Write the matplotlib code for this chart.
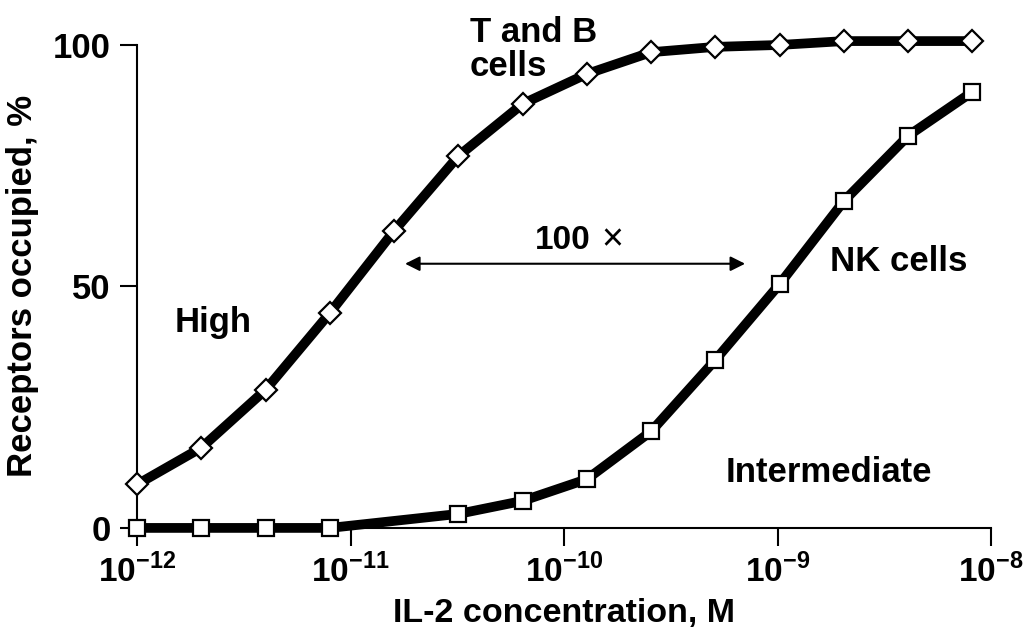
import matplotlib
matplotlib.use('Agg')
import matplotlib.pyplot as plt
import numpy as np

plt.rcParams['font.family'] = ['Liberation Sans', 'DejaVu Sans']
plt.rcParams['font.weight'] = 'bold'
plt.rcParams['mathtext.fontset'] = 'custom'
plt.rcParams['mathtext.rm'] = 'Liberation Sans:bold'
plt.rcParams['mathtext.bf'] = 'Liberation Sans:bold'

# IL-2 concentration (M), doubling steps
conc_tb = [1e-12, 2e-12, 4e-12, 8e-12, 1.6e-11, 3.2e-11, 6.4e-11, 1.28e-10,
           2.56e-10, 5.12e-10, 1.024e-9, 2.048e-9, 4.096e-9, 8.192e-9]
occ_tb = [9, 16.6, 28.6, 44.5, 61.5, 77, 87.8, 94, 98.5, 99.6, 100, 100.8, 100.8, 100.8]

conc_nk = [1e-12, 2e-12, 4e-12, 8e-12, 3.2e-11, 6.4e-11, 1.28e-10,
           2.56e-10, 5.12e-10, 1.024e-9, 2.048e-9, 4.096e-9, 8.192e-9]
occ_nk = [0, 0, 0, 0, 2.9, 5.6, 10.1, 20, 34.8, 50.5, 67.7, 81.2, 90.3]

xticks = [1e-12, 1e-11, 1e-10, 1e-9, 1e-8]
xticklabels = [r'$10^{-12}$', r'$10^{-11}$', r'$10^{-10}$', r'$10^{-9}$', r'$10^{-8}$']
yticks = [0, 50, 100]

fig = plt.figure(figsize=(10.23, 6.33), dpi=100)
ax = fig.add_axes([0.134, 0.166, 0.8347, 0.763])

ax.plot(conc_tb, occ_tb, color='black', lw=7, marker='D', ms=11.5,
        mfc='white', mec='black', mew=1.6, clip_on=False, zorder=3)
ax.plot(conc_nk, occ_nk, color='black', lw=7, marker='s', ms=11,
        mfc='white', mec='black', mew=1.6, clip_on=False, zorder=3)

ax.set_xscale('log')
ax.set_xlim(1e-12, 1e-8)
ax.set_ylim(0, 100)
ax.set_xticks(xticks)
ax.set_xticklabels(xticklabels)
ax.xaxis.set_minor_locator(matplotlib.ticker.NullLocator())
ax.set_yticks(yticks)

for s in ['top', 'right']:
    ax.spines[s].set_visible(False)
for s in ['left', 'bottom']:
    ax.spines[s].set_linewidth(1.5)
ax.tick_params(axis='both', direction='out', width=1.5)
ax.tick_params(axis='x', length=13, pad=6, labelsize=24)
ax.tick_params(axis='y', length=12, pad=7, labelsize=25)

ax.set_xlabel('IL-2 concentration, M', fontsize=24.5, fontweight='bold', labelpad=6)
ax.set_ylabel('Receptors occupied, %', fontsize=25, fontweight='bold', labelpad=10)

ax.annotate('', xy=(1.8e-11, 54.7), xytext=(7.05e-10, 54.7),
            arrowprops=dict(arrowstyle='<|-|>', color='black', lw=1.5,
                            mutation_scale=22, shrinkA=0, shrinkB=0))
ax.text(1.33e-10, 59.6, '100', fontsize=24, ha='right', va='center')
ax.text(1.68e-10, 59.6, '\u00d7', fontsize=27, fontweight='normal',
        ha='center', va='center')

ax.text(3.63e-11, 100.6, 'T and B', fontsize=25, ha='left', va='baseline')
ax.text(3.63e-11, 93.6, 'cells', fontsize=25, ha='left', va='baseline')
ax.text(1.5e-12, 40.5, 'High', fontsize=25, ha='left', va='baseline')
ax.text(1.76e-9, 53.2, 'NK cells', fontsize=25, ha='left', va='baseline')
ax.text(5.7e-10, 9.5, 'Intermediate', fontsize=25, ha='left', va='baseline')

plt.savefig('out.png', dpi=100)
